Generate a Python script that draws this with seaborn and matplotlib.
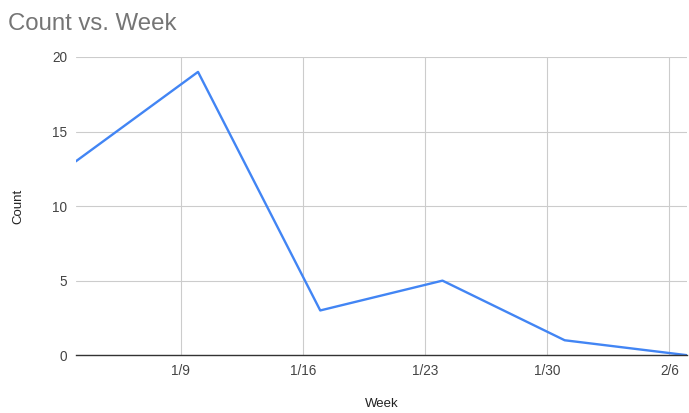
import pandas as pd
import matplotlib
matplotlib.use("Agg")
import matplotlib.pyplot as plt
import seaborn as sns

weeks = ["2022-01-03", "2022-01-10", "2022-01-17", "2022-01-24", "2022-01-31", "2022-02-07"]
counts = [13, 19, 3, 5, 1, 0]
tick_days = ["2022-01-09", "2022-01-16", "2022-01-23", "2022-01-30", "2022-02-06"]
tick_labels = ["1/9", "1/16", "1/23", "1/30", "2/6"]

df = pd.DataFrame({"Week": pd.to_datetime(weeks), "Count": counts})

sns.set_style("white")
plt.rcParams['font.family'] = ['Liberation Sans', 'DejaVu Sans']

fig = plt.figure(figsize=(6.89, 4.13), dpi=100)
ax = fig.add_axes([0.110, 0.140, 0.887, 0.722])

sns.lineplot(data=df, x="Week", y="Count", color="#4285f4", linewidth=1.7, ax=ax, zorder=3)

ax.set_xlim(df["Week"].min(), df["Week"].max())
ax.set_ylim(0, 20)
ax.set_yticks([0, 5, 10, 15, 20])
ax.set_xticks(pd.to_datetime(tick_days))
ax.set_xticklabels(tick_labels)

ax.grid(True, color="#cccccc", linewidth=0.8)
for s in ["top", "right", "left"]:
    ax.spines[s].set_visible(False)
ax.spines["bottom"].set_color("#333333")
ax.spines["bottom"].set_linewidth(1.0)
ax.spines["bottom"].set_zorder(4)

ax.tick_params(axis="both", length=0, labelsize=9.8, labelcolor="#444444", pad=6)
ax.set_xlabel("Week", fontsize=9.5, color="#222222", labelpad=15)
ax.set_ylabel("Count", fontsize=9.5, color="#222222", labelpad=20)

fig.text(0.012, 0.927, "Count vs. Week", fontsize=17.3, color="#757575", va="baseline")

fig.savefig("out.png", dpi=100)
